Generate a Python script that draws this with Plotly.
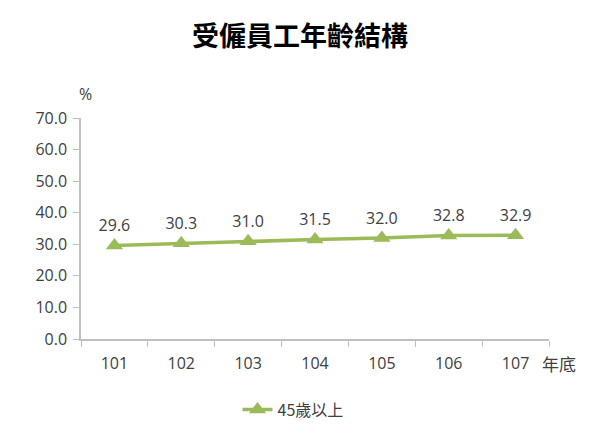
import plotly.graph_objects as go

years = ["101", "102", "103", "104", "105", "106", "107"]
share_45_plus = [29.6, 30.3, 31.0, 31.5, 32.0, 32.8, 32.9]

green = "#9BBB59"
gray_text = "#404040"
axis_gray = "#BFBFBF"

fig = go.Figure()
fig.add_trace(go.Scatter(
    x=years, y=share_45_plus,
    mode="lines+markers+text",
    name="45歲以上",
    line=dict(color=green, width=3.5),
    marker=dict(symbol="triangle-up", size=15, color=green),
    text=[f"{v:.1f}" for v in share_45_plus],
    textposition="top center",
    textfont=dict(size=16, color=gray_text, family="Open Sans, Arial"),
))

# page is drawn with an 8px body margin, so size the figure to fit the window
fig.update_layout(
    width=584, height=421,
    margin=dict(l=73, r=43, t=110, b=90, autoexpand=False),
    paper_bgcolor="white", plot_bgcolor="white",
    title=dict(text="<b>受僱員工年齡結構</b>", x=0.5, xanchor="center",
               y=0.931, yanchor="middle",
               font=dict(size=27, color="black", family="Noto Sans CJK TC")),
    font=dict(family="Open Sans, Arial", size=16, color=gray_text),
    showlegend=True,
    legend=dict(orientation="h", x=0.453, xanchor="center", y=-0.32, yanchor="middle",
                font=dict(size=16, color=gray_text, family="Noto Sans CJK TC")),
)

fig.update_xaxes(
    type="category", range=[-0.5, 6.5],
    showline=True, linecolor=axis_gray, linewidth=1.5,
    ticks="outside", tickson="boundaries", ticklen=6, tickcolor=axis_gray,
    ticklabelstandoff=9,
    showgrid=False, tickfont=dict(size=16, color=gray_text),
)
fig.update_yaxes(
    range=[0, 70], dtick=10, tickformat=".1f",
    showline=True, linecolor=axis_gray, linewidth=1.5,
    ticks="outside", ticklen=6, tickcolor=axis_gray,
    ticklabelstandoff=3,
    showgrid=False, zeroline=False, tickfont=dict(size=16, color=gray_text),
)

fig.add_annotation(text="%", xref="paper", yref="paper", x=-0.009, y=1.109,
                   yanchor="middle", showarrow=False,
                   font=dict(size=16, color=gray_text))
fig.add_annotation(text="年底", xref="paper", yref="paper", x=0.981, y=-0.109,
                   xanchor="left", yanchor="middle", showarrow=False,
                   font=dict(size=17, color=gray_text, family="Noto Sans CJK TC"))

fig.write_html("out.html")
